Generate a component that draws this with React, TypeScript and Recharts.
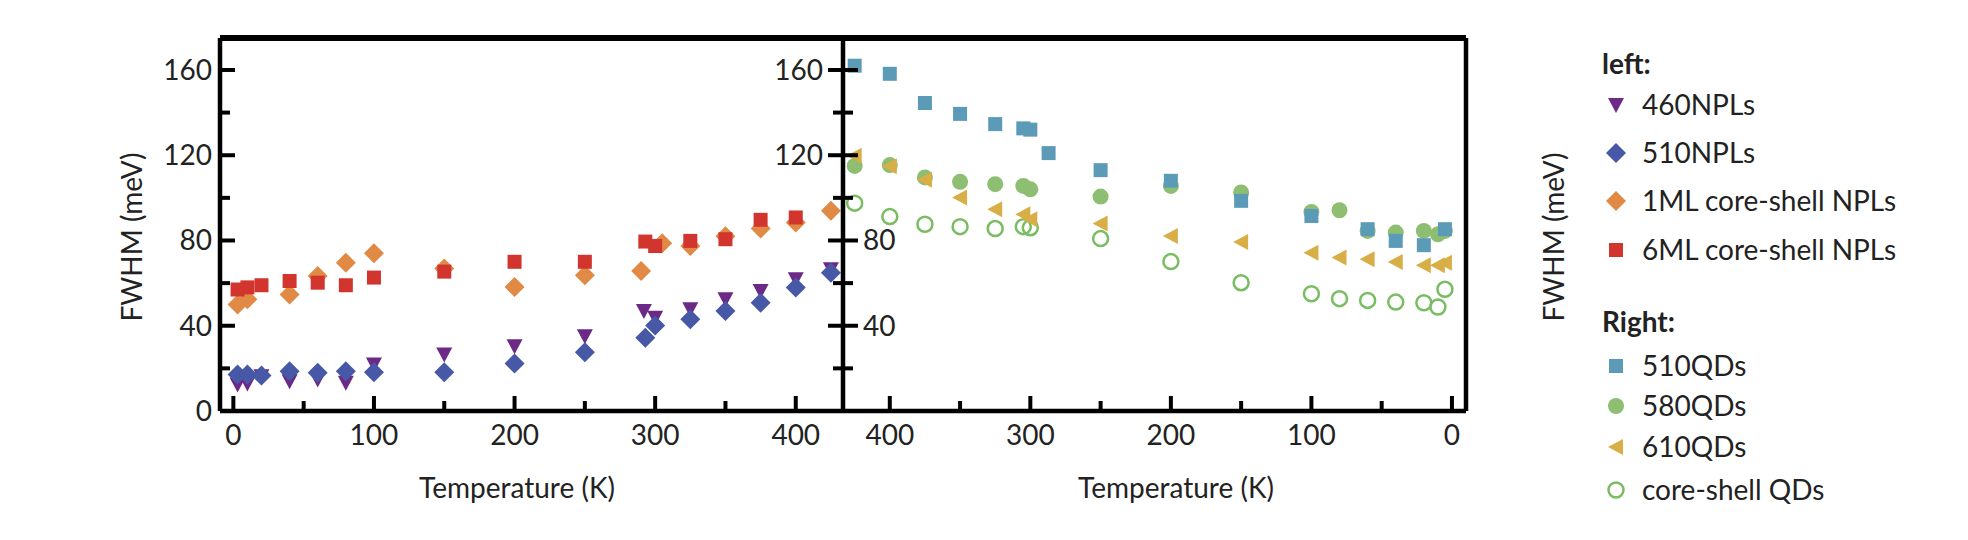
import React from "react";
import { ScatterChart, Scatter, XAxis, YAxis } from "recharts";

// ---- data ----
const T460 = [3, 10, 20, 40, 60, 80, 100, 150, 200, 250, 292, 300, 325, 350, 375, 400, 425];
const V460 = [12.4, 12.9, 16.3, 14, 14.8, 13.2, 21.8, 26.5, 30.4, 35.1, 46.9, 43.8, 47.7, 52.4, 56.3, 61.8, 66.5];
const T510 = [3, 10, 20, 40, 60, 80, 100, 150, 200, 250, 293, 300, 325, 350, 375, 400, 425];
const V510 = [17.1, 17.1, 16.6, 18.7, 17.9, 18.7, 18.2, 18.2, 22.3, 27.6, 34.4, 40.1, 43, 46.9, 50.8, 57.9, 64.9];
const T1ML = [3, 10, 40, 60, 80, 100, 150, 200, 250, 290, 305, 325, 350, 375, 400, 425];
const V1ML = [50, 52.4, 54.7, 63.3, 69.6, 74, 66.8, 58.2, 63.7, 65.7, 78.7, 77.4, 82, 85.6, 88.4, 93.9];
const T6ML = [3, 10, 20, 40, 60, 80, 100, 150, 200, 250, 293, 300, 325, 350, 375, 400];
const V6ML = [57, 58, 59, 61, 60.2, 59, 62.6, 65.4, 70, 70, 79.5, 77.4, 79.8, 80.6, 89.7, 90.8];

const TQD = [425, 400, 375, 350, 325, 305, 300, 287, 250, 200, 150, 100, 60, 40, 20, 5];
const V510QD = [162, 158.2, 144.5, 139.4, 134.6, 132.6, 132, 121, 113, 108, 98.6, 91.5, 85.3, 79.8, 77.8, 85.3];
const T580 = [425, 400, 375, 350, 325, 305, 300, 250, 200, 150, 100, 80, 60, 40, 20, 10, 5];
const V580 = [115, 115.4, 109.6, 107.5, 106.4, 105.6, 104, 100.6, 105.6, 102.5, 93.4, 94.2, 84.5, 83.7, 84.5, 82.9, 84.5];
const V610 = [119.7, 114.8, 108.5, 100.2, 94.7, 92.3, 90, 88, 82.1, 79.3, 74.3, 72, 71.2, 69.9, 68.4, 68.4, 69.5];
const VCS = [97.5, 91.2, 87.6, 86.5, 85.6, 86.5, 86, 80.9, 70.1, 60.2, 55, 52.7, 51.9, 51.1, 50.8, 48.8, 57.1];

const Y_TICKS = [0, 20, 40, 60, 80, 100, 120, 140, 160];
const X_TICKS = [0, 50, 100, 150, 200, 250, 300, 350, 400];

const zip = (t: number[], v: number[]) => t.map((x, i) => ({ t: x, v: v[i] }));

const C = {
  purple: "#6C2A86",
  blue: "#4658A6",
  orange: "#E08A45",
  red: "#D2352E",
  teal: "#5C9BB8",
  green: "#8DBE71",
  gold: "#D8AE47",
  open: "#79BD62",
};

const FONT = "Lato, 'Open Sans', sans-serif";
const FS = 28;

// ---- marker shapes ----
const Square = (color: string) => (p: any) => <rect x={p.cx - 7} y={p.cy - 7} width={14} height={14} fill={color} />;
const Circle = (color: string) => (p: any) => <circle cx={p.cx} cy={p.cy} r={8} fill={color} />;
const OpenCircle = (color: string) => (p: any) => <circle cx={p.cx} cy={p.cy} r={7.5} fill="none" stroke={color} strokeWidth={2.5} />;
const Diamond = (color: string) => (p: any) => (
  <polygon points={`${p.cx},${p.cy - 10} ${p.cx + 10},${p.cy} ${p.cx},${p.cy + 10} ${p.cx - 10},${p.cy}`} fill={color} />
);
const TriDown = (color: string) => (p: any) => (
  <polygon points={`${p.cx - 8},${p.cy - 7} ${p.cx + 8},${p.cy - 7} ${p.cx},${p.cy + 8}`} fill={color} />
);
const TriLeft = (color: string) => (p: any) => (
  <polygon points={`${p.cx + 7},${p.cy - 8} ${p.cx + 7},${p.cy + 8} ${p.cx - 8},${p.cy}`} fill={color} />
);

// ---- ticks ----
const txt = { fontFamily: FONT, fontSize: FS, fill: "#222" };
const LeftYTick = (p: any) => {
  const v = p.payload.value;
  const major = v % 40 === 0;
  return (
    <g>
      <line x1={p.x} x2={p.x + (major ? 15 : 10)} y1={p.y} y2={p.y} stroke="#000" strokeWidth={4} />
      {major && <text x={p.x - 8} y={p.y + 10} textAnchor="end" {...txt}>{v}</text>}
    </g>
  );
};
const MidYTick = (p: any) => {
  const v = p.payload.value;
  const major = v % 40 === 0;
  const len = major ? 15 : 10;
  return (
    <g>
      <line x1={p.x - len} x2={p.x + len} y1={p.y} y2={p.y} stroke="#000" strokeWidth={4} />
      {major && v >= 120 && <text x={p.x - 20} y={p.y + 10} textAnchor="end" {...txt}>{v}</text>}
      {major && v > 0 && v <= 80 && <text x={p.x + 20} y={p.y + 10} textAnchor="start" {...txt}>{v}</text>}
    </g>
  );
};
const RightYTick = (p: any) => {
  const v = p.payload.value;
  const major = v % 40 === 0;
  return (
    <g>
      <line x1={p.x - (major ? 15 : 10)} x2={p.x} y1={p.y} y2={p.y} stroke="#000" strokeWidth={4} />
      {major && <text x={p.x + 14} y={p.y + 10} textAnchor="start" {...txt}>{v}</text>}
    </g>
  );
};
const XTick = (p: any) => {
  const v = p.payload.value;
  const major = v % 100 === 0;
  return (
    <g>
      <line x1={p.x} x2={p.x} y1={p.y} y2={p.y - (major ? 15 : 10)} stroke="#000" strokeWidth={4} />
      {major && <text x={p.x} y={p.y + 34} textAnchor="middle" {...txt}>{v}</text>}
    </g>
  );
};

const W = 1968;
const H = 540;
const TOP = 38;
const BOTTOM = H - 411;
const AX = { stroke: "#000", strokeWidth: 4.5 };

const legendLeft = [
  { label: "460NPLs", shape: TriDown(C.purple), y: 105 },
  { label: "510NPLs", shape: Diamond(C.blue), y: 153 },
  { label: "1ML core-shell NPLs", shape: Diamond(C.orange), y: 201 },
  { label: "6ML core-shell NPLs", shape: Square(C.red), y: 250 },
];
const legendRight = [
  { label: "510QDs", shape: Square(C.teal), y: 366 },
  { label: "580QDs", shape: Circle(C.green), y: 406 },
  { label: "610QDs", shape: TriLeft(C.gold), y: 447 },
  { label: "core-shell QDs", shape: OpenCircle(C.open), y: 490 },
];

export default function App() {
  const abs: React.CSSProperties = { position: "absolute", left: 0, top: 0 };
  return (
    <div style={{ position: "absolute", left: 0, top: 0, width: W, height: H, background: "#fff", overflow: "hidden" }}>
      <div style={abs}>
        <ScatterChart width={W} height={H} margin={{ left: 219, right: W - 843, top: TOP - 1, bottom: BOTTOM - 1 }}>
          <XAxis xAxisId="b" type="number" dataKey="t" domain={[-9.5, 433.6]} allowDataOverflow ticks={X_TICKS}
            height={1} tickSize={0} tickMargin={0} axisLine={AX} tickLine={false} tick={XTick} interval={0} />
          <XAxis xAxisId="top" orientation="top" type="number" dataKey="t" domain={[-9.5, 433.6]} height={1}
            tick={false} tickLine={false} axisLine={{ stroke: "#000", strokeWidth: 6 }} />
          <YAxis type="number" dataKey="v" domain={[0, 175]} ticks={Y_TICKS} width={1} tickSize={0} tickMargin={0}
            axisLine={AX} tickLine={false} tick={LeftYTick} interval={0} />
          <Scatter xAxisId="b" data={zip(T1ML, V1ML)} shape={Diamond(C.orange)} isAnimationActive={false} />
          <Scatter xAxisId="b" data={zip(T6ML, V6ML)} shape={Square(C.red)} isAnimationActive={false} />
          <Scatter xAxisId="b" data={zip(T460, V460)} shape={TriDown(C.purple)} isAnimationActive={false} />
          <Scatter xAxisId="b" data={zip(T510, V510)} shape={Diamond(C.blue)} isAnimationActive={false} />
        </ScatterChart>
      </div>
      <div style={abs}>
        <ScatterChart width={W} height={H} margin={{ left: 842, right: W - 1467, top: TOP - 1, bottom: BOTTOM - 1 }}>
          <XAxis xAxisId="b" type="number" dataKey="t" domain={[-10, 433.3]} reversed allowDataOverflow ticks={X_TICKS}
            height={1} tickSize={0} tickMargin={0} axisLine={AX} tickLine={false} tick={XTick} interval={0} />
          <XAxis xAxisId="top" orientation="top" type="number" dataKey="t" domain={[-10, 433.3]} reversed height={1}
            tick={false} tickLine={false} axisLine={{ stroke: "#000", strokeWidth: 6 }} />
          <YAxis yAxisId="m" type="number" dataKey="v" domain={[0, 175]} ticks={Y_TICKS} width={1} tickSize={0} tickMargin={0}
            axisLine={AX} tickLine={false} tick={MidYTick} interval={0} />
          <YAxis yAxisId="r" orientation="right" type="number" dataKey="v" domain={[0, 175]} ticks={Y_TICKS} width={1}
            tickSize={0} tickMargin={0} axisLine={AX} tickLine={false} tick={RightYTick} interval={0} />
          <Scatter xAxisId="b" yAxisId="m" data={zip(T580, VCS)} shape={OpenCircle(C.open)} isAnimationActive={false} />
          <Scatter xAxisId="b" yAxisId="m" data={zip(T580, V580)} shape={Circle(C.green)} isAnimationActive={false} />
          <Scatter xAxisId="b" yAxisId="m" data={zip(TQD, V510QD)} shape={Square(C.teal)} isAnimationActive={false} />
          <Scatter xAxisId="b" yAxisId="m" data={zip(T580, V610)} shape={TriLeft(C.gold)} isAnimationActive={false} />
        </ScatterChart>
      </div>
      <svg style={{ ...abs, pointerEvents: "none" }} width={W} height={H}>
        <text x={517} y={498} textAnchor="middle" {...txt}>Temperature (K)</text>
        <text x={1176} y={498} textAnchor="middle" {...txt}>Temperature (K)</text>
        <text transform="translate(142,237) rotate(-90)" textAnchor="middle" {...txt}>FWHM (meV)</text>
        <text transform="translate(1564,237) rotate(-90)" textAnchor="middle" {...txt}>FWHM (meV)</text>
        <text x={1602} y={74} {...txt} fontWeight="bold">left:</text>
        {legendLeft.map((l) => (
          <g key={l.label}>
            {l.shape({ cx: 1616, cy: l.y })}
            <text x={1642} y={l.y + 10} {...txt}>{l.label}</text>
          </g>
        ))}
        <text x={1602} y={332} {...txt} fontWeight="bold">Right:</text>
        {legendRight.map((l) => (
          <g key={l.label}>
            {l.shape({ cx: 1616, cy: l.y })}
            <text x={1642} y={l.y + 10} {...txt}>{l.label}</text>
          </g>
        ))}
      </svg>
    </div>
  );
}
